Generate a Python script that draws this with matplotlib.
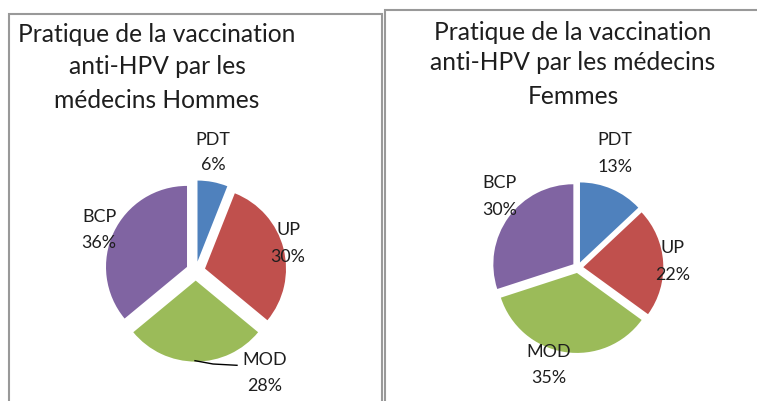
import matplotlib
matplotlib.use("Agg")
import matplotlib.pyplot as plt
from matplotlib.patches import Rectangle

# ---------------- data ----------------
categories = ["PDT", "UP", "MOD", "BCP"]
hommes = [6, 30, 28, 36]
femmes = [13, 22, 35, 30]
colors = ["#4F81BD", "#C0504D", "#9BBB59", "#8064A2"]
title_hommes = ["Pratique de la vaccination", "anti-HPV par les", "médecins Hommes"]
title_femmes = ["Pratique de la vaccination", "anti-HPV par les médecins", "Femmes"]

W, H = 757, 401
FONT = "Lato"
TXT = "#1e1e1e"

fig = plt.figure(figsize=(W / 100, H / 100), dpi=100)
ax = fig.add_axes([0, 0, 1, 1])


def Y(y):
    return H - y


renderer = fig.canvas.get_renderer()


def fit_size(s, target_px, base=12):
    t = fig.text(0, 0, s, fontsize=base, family=FONT)
    w = t.get_window_extent(renderer).width
    t.remove()
    return base * target_px / w


title_fs = fit_size("Pratique de la vaccination", 278)
label_fs = fit_size("MOD", 44)

# pies
ax.pie(hommes, colors=colors, startangle=90, counterclock=False,
       explode=[9.6] * 4, center=(195.7, Y(271)), radius=81,
       wedgeprops=dict(linewidth=0))
ax.pie(femmes, colors=colors, startangle=90, counterclock=False,
       explode=[5.5] * 4, center=(577.8, Y(267.5)), radius=80,
       wedgeprops=dict(linewidth=0))

ax.set_xlim(0, W)
ax.set_ylim(0, H)
ax.set_aspect("auto")
ax.axis("off")

# panel borders
ax.add_patch(Rectangle((8.5, Y(420)), 373.5, 420 - 13.5, fill=False,
                       ec="#999999", lw=1.5))
ax.add_patch(Rectangle((385, Y(420)), 400, 420 - 9.5, fill=False,
                       ec="#999999", lw=1.5))

# titles
for line, y in zip(title_hommes, [35, 67, 100]):
    ax.text(157, Y(y), line, ha="center", va="center", fontsize=title_fs,
            family=FONT, color=TXT)
for line, y in zip(title_femmes, [32, 63, 97]):
    ax.text(573, Y(y), line, ha="center", va="center", fontsize=title_fs,
            family=FONT, color=TXT)

# data labels
pos_h = [(213, 140, 165), (288, 230, 257), (265, 360, 386), (99, 217, 243)]
pos_f = [(615, 140, 167), (673, 248, 275), (549, 352, 378), (500, 183, 210)]
for cat, v, (x, y1, y2) in zip(categories, hommes, pos_h):
    ax.text(x, Y(y1), cat, ha="center", va="center", fontsize=label_fs,
            family=FONT, color=TXT)
    ax.text(x, Y(y2), f"{v}%", ha="center", va="center", fontsize=label_fs,
            family=FONT, color=TXT)
for cat, v, (x, y1, y2) in zip(categories, femmes, pos_f):
    ax.text(x, Y(y1), cat, ha="center", va="center", fontsize=label_fs,
            family=FONT, color=TXT)
    ax.text(x, Y(y2), f"{v}%", ha="center", va="center", fontsize=label_fs,
            family=FONT, color=TXT)

# leader line for MOD (Hommes)
ax.plot([195, 213, 237], [Y(360.7), Y(364), Y(365.3)], color="black", lw=1)

fig.savefig("out.png", dpi=100)
